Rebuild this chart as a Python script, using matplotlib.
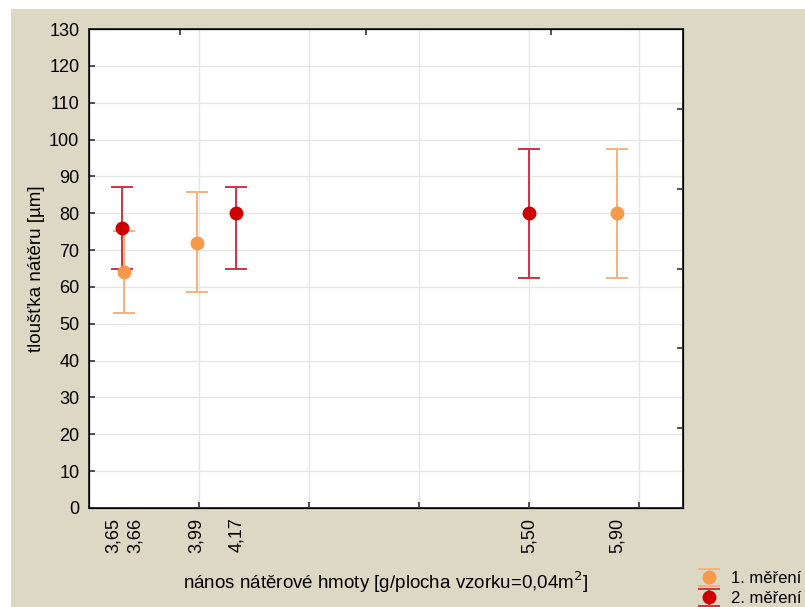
#!/usr/bin/env python3
# -*- coding: utf-8 -*-
import numpy as np
import matplotlib

matplotlib.use("Agg")
import matplotlib.pyplot as plt
import matplotlib.transforms as mtransforms
from matplotlib.patches import Rectangle

plt.rcParams["font.family"] = ["Liberation Sans", "DejaVu Sans"]

# 1. mereni
x1 = [3.66, 3.99, 5.90]
mean1 = [64, 72, 80]
low1 = [53, 58.5, 62.5]
high1 = [75.2, 85.7, 97.5]

# 2. mereni
x2 = [3.65, 4.17, 5.50]
mean2 = [76, 80, 80]
low2 = [65, 65, 62.5]
high2 = [87, 87, 97.5]

tick_vals = [3.65, 3.66, 3.99, 4.17, 5.50, 5.90]
tick_labels = ["3,65", "3,66", "3,99", "4,17", "5,50", "5,90"]
grid_x = [4.0, 4.5, 5.0, 5.5, 6.0]
y_ticks = list(range(0, 131, 10))

BG = "#ddd8c4"
ORANGE = "#f7994a"
ORANGE_ERR = "#f4b27e"
RED = "#cc0000"
RED_ERR = "#cc3344"
FS = 13

fig = plt.figure(figsize=(8.05, 6.07), dpi=100, facecolor="white")
fig.patches.append(Rectangle((11 / 805, 0), 1, 598 / 607, transform=fig.transFigure,
                             facecolor=BG, edgecolor="none", zorder=-10))

ax = fig.add_axes([89 / 805, 99 / 607, 594 / 805, 479 / 607])
ax.set_facecolor("white")

e1 = ax.errorbar(x1, mean1,
                 yerr=[np.subtract(mean1, low1), np.subtract(high1, mean1)],
                 fmt="o", color=ORANGE, ecolor=ORANGE_ERR, elinewidth=1.4,
                 capsize=8, capthick=1.4, markersize=9, label="1. měření", zorder=3)
e2 = ax.errorbar(x2, mean2,
                 yerr=[np.subtract(mean2, low2), np.subtract(high2, mean2)],
                 fmt="o", color=RED, ecolor=RED_ERR, elinewidth=1.4,
                 capsize=8, capthick=1.4, markersize=9, label="2. měření", zorder=3)

ax.set_xlim(3.5, 6.2)
ax.set_ylim(0, 130)

ax.xaxis.remove_overlapping_locs = False
ax.set_xticks(grid_x)
ax.set_xticklabels([])
ax.set_xticks(tick_vals, tick_labels, minor=True)
ax.tick_params(axis="x", which="major", direction="in", length=4, width=1.2, color="#333333")
ax.tick_params(axis="x", which="minor", length=0, pad=7, labelsize=FS, rotation=90)

# 3,65 a 3,66 posunout od sebe
labs = ax.xaxis.get_minorticklabels()
labs[0].set_transform(labs[0].get_transform() + mtransforms.ScaledTranslation(-9 / 100, 0, fig.dpi_scale_trans))
labs[1].set_transform(labs[1].get_transform() + mtransforms.ScaledTranslation(11 / 100, 0, fig.dpi_scale_trans))

ax.set_yticks(y_ticks)
ax.tick_params(axis="y", direction="in", length=4, width=1.2, color="#333333", labelsize=FS, pad=7)

ax.grid(True, which="major", color="#e6e6e6", linewidth=1.0)
ax.set_axisbelow(True)
for s in ax.spines.values():
    s.set_color("#333333")
    s.set_linewidth(1.4)

# ticky nahore a vpravo
axt = ax.twiny()
axt.set_xlim(0, 1)
axt.set_xticks([0.153, 0.466, 0.778])
axt.set_xticklabels([])
axt.tick_params(axis="x", direction="in", length=4, width=1.2, color="#333333")
axr = ax.twinx()
axr.set_ylim(0, 1)
axr.set_yticks([1 / 6, 2 / 6, 3 / 6, 4 / 6, 5 / 6])
axr.set_yticklabels([])
axr.tick_params(axis="y", direction="in", length=4, width=1.2, color="#333333")

ax.set_xlabel("nános nátěrové hmoty [g/plocha vzorku=0,04m$^2$]", fontsize=13.5, labelpad=12)
ax.set_ylabel("tloušťka nátěru [µm]", fontsize=13.5, labelpad=3)

fig.legend(handles=[e1, e2], labels=["1. měření", "2. měření"],
           loc="upper left", bbox_to_anchor=(695 / 805, 36 / 607),
           frameon=False, fontsize=12, handlelength=1.7, handletextpad=0.45,
           labelspacing=0.3, borderaxespad=0.0, borderpad=0.0)

fig.savefig("out.png", dpi=100, facecolor="white")
